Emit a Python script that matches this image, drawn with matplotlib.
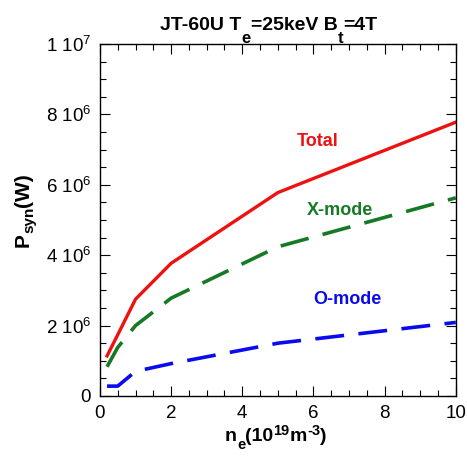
import numpy as np
import matplotlib.pyplot as plt
from matplotlib.ticker import MultipleLocator, FixedLocator, FixedFormatter

plt.rcParams['font.family'] = ['Liberation Sans', 'DejaVu Sans']
plt.rcParams['mathtext.fontset'] = 'custom'
plt.rcParams['mathtext.rm'] = 'Liberation Sans'
plt.rcParams['mathtext.it'] = 'Liberation Sans'
plt.rcParams['mathtext.bf'] = 'Liberation Sans:bold'

# density (1e19 m^-3) and synchrotron power (W)
ne = [0.2, 0.5, 1, 2, 5, 10]
p_total = [1.14e6, 1.74e6, 2.75e6, 3.77e6, 5.78e6, 7.78e6]
p_xmode = [0.83e6, 1.38e6, 2.0e6, 2.78e6, 4.24e6, 5.63e6]
p_omode = [0.28e6, 0.28e6, 0.70e6, 0.92e6, 1.50e6, 2.09e6]

ytick_vals = [0, 2e6, 4e6, 6e6, 8e6, 1e7]
ytick_labels = ['0', r'2 10$^6$', r'4 10$^6$', r'6 10$^6$', r'8 10$^6$', r'1 10$^7$']

# (text, fontsize, baseline shift in points)
title_parts = [('JT-60U T', 14, 0), ('e', 12, -8.5), ('=25keV B', 14, 0), ('t', 12, -8.5), ('=4T', 14, 0)]
xlabel_parts = [('n', 14, 0), ('e', 10.5, -5), ('(10', 14, 0), ('19', 10.5, 5), ('m', 14, 0), ('-3', 10.5, 5), (')', 14, 0)]
ylabel_parts = [('P', 15, 0), ('syn', 11, -6), ('(W)', 15, 0)]


def chain_text(ax, x, y, parts, rotation=0, **kw):
    # draw pieces one after another, each anchored on the previous one
    prev = None
    prev_shift = 0
    for s, size, shift in parts:
        d = shift - prev_shift
        if prev is None:
            dx, dy = (-d, 0) if rotation else (0, d)
            prev = ax.annotate(s, xy=(x, y), xycoords='figure fraction',
                               xytext=(dx, dy), textcoords='offset points',
                               fontsize=size, rotation=rotation,
                               ha='left', va='bottom', annotation_clip=False, **kw)
        else:
            if rotation:
                xy, off = (0, 1), (-d, 0)
            else:
                xy, off = (1, 0), (0, d)
            prev = ax.annotate(s, xy=xy, xycoords=prev, xytext=off,
                               textcoords='offset points', fontsize=size,
                               rotation=rotation, ha='left', va='bottom',
                               annotation_clip=False, **kw)
        prev_shift = shift


fig = plt.figure(figsize=(4.67, 4.59), dpi=100)
ax = fig.add_axes([0.214, 0.1373, 0.762, 0.7667])

ax.plot(ne, p_total, color='#ee1111', lw=2.4, solid_joinstyle='miter')
ax.plot(ne, p_xmode, color='#167a25', lw=2.6, dashes=(8, 4))
ax.plot(ne, p_omode, color='#0a0aee', lw=2.6, dashes=(8, 4))

ax.text(6.12, 7.24e6, 'Total', color='#ee1111', fontsize=13, fontweight='bold', ha='center', va='center')
ax.text(6.74, 5.26e6, 'X-mode', color='#167a25', fontsize=13, fontweight='bold', ha='center', va='center')
ax.text(6.94, 2.73e6, 'O-mode', color='#0a0aee', fontsize=13, fontweight='bold', ha='center', va='center')

ax.set_xlim(0, 10)
ax.set_ylim(0, 1e7)
ax.xaxis.set_major_locator(MultipleLocator(2))
ax.xaxis.set_minor_locator(MultipleLocator(0.5))
ax.yaxis.set_major_locator(FixedLocator(ytick_vals))
ax.yaxis.set_major_formatter(FixedFormatter(ytick_labels))
ax.yaxis.set_minor_locator(MultipleLocator(0.5e6))
ax.tick_params(which='both', direction='in', top=True, right=True, labelsize=13.5, width=0.8)
ax.tick_params(which='major', length=7, pad=6.5)
ax.tick_params(which='minor', length=4)
for s in ax.spines.values():
    s.set_linewidth(1.0)

chain_text(ax, 0.3426, 0.926, title_parts, fontweight='bold')
chain_text(ax, 0.4818, 0.030, xlabel_parts, fontweight='bold')
chain_text(ax, 0.030, 0.4619, ylabel_parts, rotation=90, fontweight='bold')

fig.savefig('out.png', dpi=100)
